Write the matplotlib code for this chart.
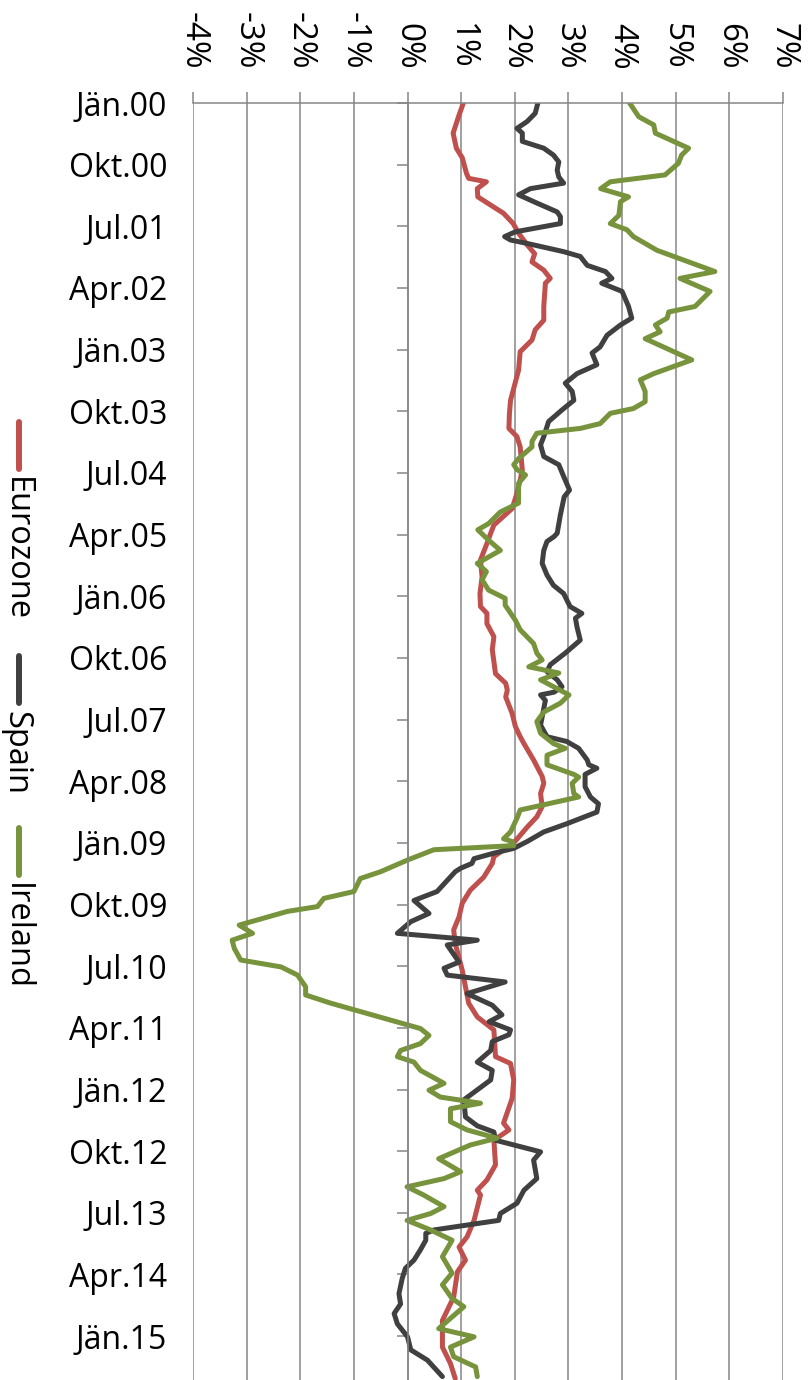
import matplotlib.pyplot as plt
from matplotlib.lines import Line2D

# months counted from Jan 2000 (0) -> readings of core inflation, % yoy
euro_months = [0, 2, 4.4, 6.6, 8, 10.3, 11, 11.5, 12.5, 13.7, 14.9, 16.1, 17.6, 19, 20.7, 22, 23.2, 24.4,
               25.6, 26.3, 29.7, 31.7, 33.1, 34.6, 36.3, 39, 43.4, 45.3, 47.5, 48.7, 50.2, 53.6, 55, 57,
               59.2, 61.6, 62.8, 64.3, 66.7, 69.2, 71.6, 73.5, 74.5, 76, 77.9, 79.8, 83.3, 84.7, 85.7,
               86.7, 89.1, 91, 92.5, 93.5, 95.9, 98.3, 99.3, 100.8, 102.7, 104.2, 105.7, 108, 110, 111,
               113, 114.9, 116.8, 118.8, 120.7, 122.7, 126.6, 129, 131.4, 133.4, 135.3, 139.2, 140.2,
               142.6, 145.3, 148.9, 149.9, 151.4, 155, 157.2, 158.7, 159.4, 163.1, 165.5, 167, 168.9,
               170.6, 174.3, 177.7, 181.6, 184, 186.2]
euro_values = [1.04, 0.95, 0.85, 0.91, 1.02, 1.10, 1.14, 1.47, 1.30, 1.31, 1.55, 1.79, 1.97, 2.07, 2.23,
               2.37, 2.32, 2.54, 2.66, 2.57, 2.54, 2.54, 2.38, 2.32, 2.10, 2.07, 1.92, 1.90, 1.89, 2.04,
               2.10, 2.14, 2.10, 2.04, 1.95, 1.61, 1.55, 1.48, 1.36, 1.39, 1.35, 1.36, 1.48, 1.48, 1.61,
               1.58, 1.64, 1.83, 1.86, 1.83, 1.95, 2.01, 2.10, 2.17, 2.35, 2.51, 2.54, 2.48, 2.51, 2.41,
               2.23, 1.98, 1.61, 1.58, 1.42, 1.17, 1.02, 0.96, 0.86, 0.89, 1.02, 1.08, 1.14, 1.30, 1.61,
               1.64, 1.92, 1.98, 1.95, 1.79, 1.89, 1.61, 1.64, 1.48, 1.30, 1.36, 1.24, 1.11, 0.96, 1.08,
               0.93, 0.86, 0.65, 0.65, 0.80, 0.89]

spain_months = [0, 1.5, 2.7, 3.7, 4.4, 5.6, 6.6, 7.6, 8.6, 9.8, 10.8, 11.7, 12.5, 13.4, 14.6, 15.9, 16.6,
                17.6, 18.8, 19.5, 20, 20.5, 21.7, 22.4, 23.7, 24.6, 25.6, 26.3, 27.5, 29.7, 31.4, 32.4,
                33.9, 35.6, 36.5, 38.2, 39.5, 40.9, 42.1, 43.4, 44.8, 46.5, 48.7, 49.9, 51.6, 52.8, 54.5,
                56.5, 57.5, 60.1, 62.8, 63.3, 64, 65.3, 67.2, 68.9, 70.4, 71.6, 73.5, 74.5, 75.2, 76.5,
                78.4, 80.3, 82, 83, 84.2, 85.2, 86, 86.4, 87.2, 89.6, 90.8, 92.5, 93.2, 94.2, 95.9, 96.6,
                97.1, 98, 99.8, 101.3, 102.3, 103.5, 105.2, 106.4, 107.8, 108.8, 109.5, 110.3, 111, 111.7,
                112.2, 115.1, 116.4, 118.3, 119.5, 121.2, 122.2, 122.9, 125.4, 126.3, 127.3, 128.3, 130,
                131.7, 133.1, 134.1, 135.3, 136, 137, 138.3, 140, 141.2, 142.6, 145.5, 148, 149.3, 150.2,
                151.4, 153.1, 154.3, 157, 158.7, 160.6, 162.1, 163.1, 164.5, 165, 166, 167.4, 168.9, 170.1,
                171.6, 173.8, 175.3, 176.7, 178.2, 180.1, 182, 183.5, 185.9]
spain_values = [2.43, 2.38, 2.23, 2.04, 2.14, 2.14, 2.54, 2.72, 2.82, 2.79, 2.82, 2.91, 2.29, 2.07, 2.41,
                2.79, 2.85, 2.85, 2.01, 1.81, 1.92, 2.23, 2.91, 3.22, 3.35, 3.69, 3.81, 3.62, 4.00, 4.12,
                4.18, 3.97, 3.72, 3.59, 3.44, 3.53, 3.16, 2.94, 3.07, 3.10, 2.88, 2.63, 2.54, 2.48, 2.54,
                2.82, 2.91, 3.02, 2.92, 2.85, 2.79, 2.73, 2.60, 2.54, 2.51, 2.60, 2.72, 2.91, 3.03, 3.25,
                3.13, 3.16, 3.22, 2.94, 2.66, 2.60, 2.79, 2.88, 2.73, 2.48, 2.57, 2.51, 2.48, 2.60, 2.97,
                3.19, 3.35, 3.38, 3.53, 3.31, 3.31, 3.41, 3.56, 3.53, 2.97, 2.54, 2.23, 1.98, 1.61, 1.24,
                1.20, 0.99, 0.89, 0.55, 0.12, 0.40, 0.06, -0.19, 1.30, 0.74, 0.96, 0.68, 0.74, 1.82, 1.11,
                1.58, 1.76, 1.52, 1.92, 1.89, 1.58, 1.55, 1.30, 1.58, 1.55, 1.05, 1.08, 1.30, 1.61, 1.64,
                2.48, 2.35, 2.41, 2.17, 2.04, 1.73, 1.70, 0.49, 0.34, 0.34, 0.24, 0.12, -0.04, -0.10, -0.16,
                -0.13, -0.25, -0.19, 0.00, 0.06, 0.37, 0.65]

ireland_months = [0, 2, 3.2, 4.4, 5.6, 6.6, 7.6, 8.8, 10.5, 11.5, 12.5, 13.7, 14.4, 16.4, 17.6, 18.5, 19.5,
                  21.5, 24.6, 25.6, 27.5, 29.7, 30.5, 31.4, 32.4, 33.4, 34.4, 37.5, 39.5, 40.4, 42.1, 43.6,
                  44.6, 45.3, 46.8, 47.5, 48.2, 49.4, 50.2, 51.9, 52.8, 53.5, 54.3, 55.5, 58.4, 59.7, 61.4,
                  62.3, 63.8, 65.3, 67.2, 68.4, 69.6, 71.1, 72.3, 73.3, 75.5, 76.9, 78.9, 80.3, 81.3, 82.3,
                  83.2, 84.2, 86.4, 87.6, 88.9, 90.3, 92, 93.5, 94.2, 95.2, 96.6, 98, 98.4, 99.3, 100.8,
                  101.3, 103.2, 104.4, 105.4, 106.4, 107.4, 107.8, 108.4, 109, 110.5, 112.2, 113.2, 115.1,
                  116.1, 117.3, 118, 120, 121.2, 122.2, 123.4, 125.1, 126.1, 127.3, 129, 130.2, 131.4,
                  132.9, 135.1, 136.1, 137.3, 138.3, 139.2, 140, 141.2, 142.4, 143.1, 144.1, 145.1, 146,
                  146.8, 148.7, 149.9, 151.1, 152.1, 154.1, 156, 157, 158.2, 159.4, 161.1, 162.1, 163.1,
                  164.5, 166, 168.4, 170.8, 172.5, 174.5, 175.7, 178.9, 180.1, 181.6, 183, 184.5, 185.9]
ireland_values = [4.14, 4.31, 4.59, 4.62, 4.96, 5.24, 5.11, 5.05, 4.80, 3.78, 3.60, 4.12, 3.97, 3.94, 3.78,
                  4.09, 4.21, 4.65, 5.73, 5.08, 5.64, 5.36, 4.87, 4.84, 4.62, 4.71, 4.43, 5.30, 4.59, 4.34,
                  4.43, 4.43, 4.21, 3.78, 3.59, 3.22, 2.41, 2.32, 2.32, 2.07, 1.98, 2.04, 2.20, 2.07, 2.07,
                  1.73, 1.51, 1.31, 1.51, 1.73, 1.30, 1.47, 1.39, 1.51, 1.82, 1.82, 2.01, 2.10, 2.35, 2.41,
                  2.51, 2.26, 2.82, 2.48, 3.01, 2.85, 2.54, 2.41, 2.48, 2.72, 2.94, 2.60, 2.60, 3.10, 3.19,
                  3.07, 3.10, 3.19, 2.10, 2.04, 1.98, 1.92, 1.79, 1.95, 1.98, 0.49, 0.00, -0.50, -0.88,
                  -1.00, -1.56, -1.68, -2.24, -3.14, -2.89, -3.27, -3.23, -3.11, -2.36, -2.05, -1.90, -1.90,
                  -1.43, -0.75, 0.24, 0.40, 0.24, -0.13, -0.19, 0.12, 0.24, 0.52, 0.68, 0.40, 0.61, 1.36,
                  0.80, 0.80, 1.11, 1.67, 1.17, 0.58, 0.99, 0.68, -0.01, 0.30, 0.68, 0.43, -0.01, 0.43,
                  0.83, 0.65, 0.83, 0.65, 0.83, 1.05, 0.58, 1.24, 0.80, 0.86, 1.27, 1.30]

date_labels = ['Jän.00', 'Okt.00', 'Jul.01', 'Apr.02', 'Jän.03', 'Okt.03', 'Jul.04', 'Apr.05', 'Jän.06',
               'Okt.06', 'Jul.07', 'Apr.08', 'Jän.09', 'Okt.09', 'Jul.10', 'Apr.11', 'Jän.12', 'Okt.12',
               'Jul.13', 'Apr.14', 'Jän.15']
pct_ticks = [-4, -3, -2, -1, 0, 1, 2, 3, 4, 5, 6, 7]
series_names = ['Eurozone', 'Spain', 'Ireland']
colors = ['#C0504D', '#404040', '#77933C']

plt.rcParams['font.family'] = ['Open Sans', 'DejaVu Sans']
grid_col = '#868686'

fig = plt.figure(figsize=(8.09, 13.80), dpi=100)
ax = fig.add_axes([193 / 809, 0, 590 / 809, 1 - 103 / 1380])

data = [(euro_months, euro_values), (spain_months, spain_values), (ireland_months, ireland_values)]
for (m, v), c in zip(data, colors):
    ax.plot(v, m, color=c, lw=3.6, solid_joinstyle='round', solid_capstyle='round')

ax.set_xlim(-4, 7)
ax.set_ylim(186.4, 0)

# value axis (rotated chart -> on top)
ax.set_xticks(pct_ticks)
ax.set_xticklabels(['%d%%' % t for t in pct_ticks])
ax.xaxis.tick_top()
ax.tick_params(axis='x', length=8, width=1.1, color=grid_col, pad=16, labelrotation=-90, labelsize=24)
ax.grid(axis='x', color=grid_col, lw=1.1)
ax.set_axisbelow(True)

# category axis crosses at 0%
ax.set_yticks(range(0, 181, 9))
ax.set_yticklabels(date_labels)
ax.tick_params(axis='y', length=8, width=1.1, color=grid_col, pad=165, labelsize=23)
ax.spines['left'].set_position(('data', 0))
ax.spines['left'].set_color(grid_col)
ax.spines['left'].set_linewidth(1.1)
ax.spines['top'].set_color(grid_col)
ax.spines['top'].set_linewidth(1.1)
ax.spines['right'].set_visible(False)
ax.spines['bottom'].set_visible(False)

# legend, rotated like the rest of the chart
legend_top = [422, 656, 828]
for name, c, top in zip(series_names, colors, legend_top):
    fig.add_artist(Line2D([19 / 809, 19 / 809], [1 - top / 1380, 1 - (top + 47) / 1380],
                          color=c, lw=4.3, solid_capstyle='round', transform=fig.transFigure))
    fig.text(16 / 809, 1 - (top + 55) / 1380, name, rotation=-90, ha='center', va='top', fontsize=23.5)

fig.savefig('out.png', dpi=100)
